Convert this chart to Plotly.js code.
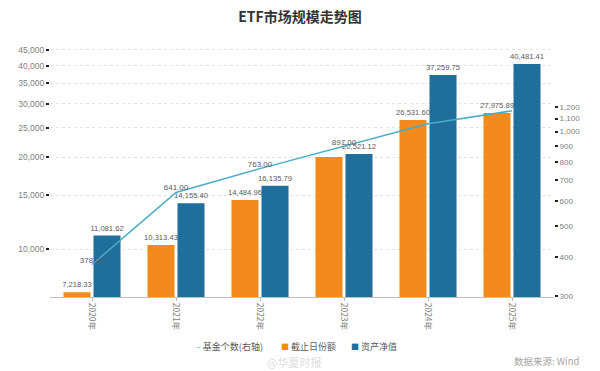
<!DOCTYPE html>
<html><head><meta charset="utf-8">
<script src="https://cdn.plot.ly/plotly-3.0.1.min.js"></script>
<style>html,body{margin:0;padding:0;background:#fff}#chart{width:600px;height:371px}</style>
</head><body><div id="chart"></div>
<script>
const years = ['2020年','2021年','2022年','2023年','2024年','2025年'];
const shares = [7218.33, 10313.43, 14484.96, 20070, 26531.60, 27975.89];   // 截止日份额
const nav = [11081.62, 14155.40, 16135.79, 20521.12, 37259.75, 40481.41];  // 资产净值
const fundCount = [378, 641, 763, 897, 1060, 1165];                         // 基金个数(右轴)
const sharesShown = [true, true, true, false, true, true];
const countShown = [true, true, true, true, false, false];
const leftTicks = [10000, 15000, 20000, 25000, 30000, 35000, 40000, 45000];
const rightTicks = [300, 400, 500, 600, 700, 800, 900, 1000, 1100, 1200];
const seriesNames = ['基金个数(右轴)', '截止日份额', '资产净值'];
const seriesColors = ['#4bacc6', '#f28a1e', '#1f6e9c'];

const fmt2 = v => v.toLocaleString('en-US', {minimumFractionDigits:2, maximumFractionDigits:2});
const fmt0 = v => v.toLocaleString('en-US');
const FONT = 'Liberation Sans, Arial, sans-serif';
const CJK = 'Noto Sans CJK SC, sans-serif';
const labelFont = {family: FONT, size: 7.6, color: '#595959'};

const data = [
  {type:'bar', name:seriesNames[1], x: years, y: shares, marker:{color:seriesColors[1]},
   text: shares.map((v,i)=> sharesShown[i] ? fmt2(v) : ''),
   textposition:'outside', constraintext:'none', textfont: labelFont, cliponaxis:false},
  {type:'bar', name:seriesNames[2], x: years, y: nav, marker:{color:seriesColors[2]},
   text: nav.map(v=>fmt2(v)),
   textposition:'outside', constraintext:'none', textfont: labelFont, cliponaxis:false},
  {type:'scatter', mode:'lines+text', name:seriesNames[0], x: years, y: fundCount, yaxis:'y2',
   line:{color:seriesColors[0], width:1.5},
   text: fundCount.map((v,i)=> countShown[i] ? fmt2(v) : ''),
   textposition:'top center', textfont: {family: FONT, size: 8, color: '#595959'}, cliponaxis:false}
];

const legendY = -0.19;
const legendItems = [
  {x:0.285, html:'<span style="color:'+seriesColors[0]+'">–</span> '+seriesNames[0]},
  {x:0.455, html:'<span style="color:'+seriesColors[1]+';font-size:8px">■</span> '+seriesNames[1]},
  {x:0.594, html:'<span style="color:'+seriesColors[2]+';font-size:8px">■</span> '+seriesNames[2]}
];

const layout = {
  width:600, height:371,
  margin:{l:50, r:46, t:36, b:74},
  paper_bgcolor:'#fff', plot_bgcolor:'#fff',
  title:{text:'<b>ETF市场规模走势图</b>', x:0.5, xanchor:'center', y:0.955, yanchor:'middle',
         font:{family:CJK, size:14, color:'#333'}},
  barmode:'group', bargap:0.285, bargroupgap:0.1,
  showlegend:false,
  xaxis:{type:'category', tickangle:90, tickfont:{family:CJK, size:8.5, color:'#808080'},
         showline:true, linecolor:'#bfbfbf', linewidth:1, ticks:'outside', ticklen:3, tickcolor:'#bfbfbf',
         showgrid:false, fixedrange:true},
  yaxis:{type:'log', range:[Math.log10(6970), Math.log10(50000)], tickvals:leftTicks,
         ticktext:leftTicks.map(fmt0), tickfont:{family:FONT, size:8.5, color:'#808080'},
         ticks:'outside', ticklen:3, tickwidth:2, tickcolor:'#222',
         showgrid:true, gridcolor:'#e3e3e3', griddash:'dot', gridwidth:1, zeroline:false, showline:false},
  yaxis2:{type:'log', overlaying:'y', side:'right', range:[Math.log10(298), Math.log10(2015)],
          tickvals:rightTicks, ticktext:rightTicks.map(fmt0),
          tickfont:{family:FONT, size:8, color:'#808080'},
          ticks:'outside', ticklen:3, tickwidth:2, tickcolor:'#222',
          showgrid:false, zeroline:false, showline:false},
  annotations: legendItems.map(it => ({text:it.html, xref:'paper', yref:'paper', x:it.x, y:legendY,
      xanchor:'left', yanchor:'middle', showarrow:false, font:{family:CJK, size:9, color:'#595959'}}))
    .concat([
    {text:'数据来源: Wind', xref:'paper', yref:'paper', x:1.056, y:-0.245, xanchor:'right', yanchor:'middle',
     showarrow:false, font:{family:CJK, size:9.5, color:'#a6a6a6'}},
    {text:'@华夏时报', xref:'paper', yref:'paper', x:0.485, y:-0.25, xanchor:'center', yanchor:'middle',
     showarrow:false, font:{family:CJK, size:11, color:'rgba(190,190,190,0.55)'}}
  ])
};
Plotly.newPlot('chart', data, layout, {displayModeBar:false, staticPlot:true});
</script></body></html>
